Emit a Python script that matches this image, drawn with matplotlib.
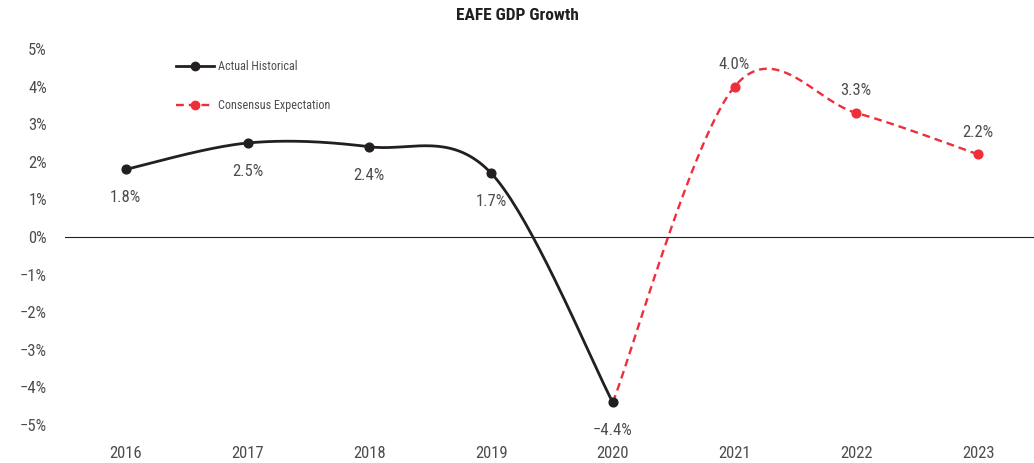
import matplotlib.pyplot as plt
import numpy as np
from matplotlib.lines import Line2D

years = ['2016', '2017', '2018', '2019', '2020', '2021', '2022', '2023']
actual = [1.8, 2.5, 2.4, 1.7, -4.4]           # 2016-2020
consensus = [-4.4, 4.0, 3.3, 2.2]             # 2020-2023
actual_idx = [0, 1, 2, 3, 4]
consensus_idx = [4, 5, 6, 7]
ylabels = ['5%', '4%', '3%', '2%', '1%', '0%', '\u22121%', '\u22122%', '\u22123%', '\u22124%', '\u22125%']

plt.rcParams['font.family'] = ['Roboto Condensed', 'DejaVu Sans']
black = '#231f20'
red = '#ee2e3a'
grey = '#4d4d4d'


def smooth(xs, ys, n=40):
    # excel-style smoothed line: cubic bezier segments with catmull-rom handles
    pts = np.column_stack([xs, ys]).astype(float)
    pad = np.vstack([pts[0], pts, pts[-1]])
    out = []
    for i in range(len(pts) - 1):
        p0, p1, p2, p3 = pad[i], pad[i + 1], pad[i + 2], pad[i + 3]
        c1 = p1 + (p2 - p0) / 6
        c2 = p2 - (p3 - p1) / 6
        t = np.linspace(0, 1, n)[:, None]
        seg = (1 - t) ** 3 * p1 + 3 * (1 - t) ** 2 * t * c1 + 3 * (1 - t) * t ** 2 * c2 + t ** 3 * p2
        out.append(seg if i == 0 else seg[1:])
    out = np.vstack(out)
    return out[:, 0], out[:, 1]


fig = plt.figure(figsize=(10.34, 4.63), dpi=100)
ax = fig.add_axes([65 / 1034, 1 - 425 / 463, 1 - 65 / 1034, (425 - 49) / 463])

ax.axhline(0, color=black, lw=0.8, zorder=1)

sx, sy = smooth(actual_idx, actual)
ax.plot(sx, sy, color=black, lw=2, zorder=2)
ax.plot(actual_idx, actual, 'o', color=black, ms=6.3, zorder=4)

sx, sy = smooth(consensus_idx, consensus)
ax.plot(sx, sy, color=red, lw=1.7, ls=(0, (3.3, 2.1)), zorder=3)
ax.plot(consensus_idx[1:], consensus[1:], 'o', color=red, ms=6.3, zorder=4)


def pct(v):
    s = f'{abs(v):.1f}%'
    return ('\u2212' + s) if v < 0 else s


for i, v in zip(actual_idx, actual):
    ax.annotate(pct(v), (i, v), xytext=(0, -20.5), textcoords='offset points',
                ha='center', va='center', fontsize=12, color=grey)
for i, v in zip(consensus_idx[1:], consensus[1:]):
    ax.annotate(pct(v), (i, v), xytext=(0, 16), textcoords='offset points',
                ha='center', va='center', fontsize=12, color=grey)

ax.set_xlim(-0.5, 7.46)
ax.set_ylim(-5, 5)
ax.set_xticks(range(len(years)))
ax.set_xticklabels(years)
ax.set_yticks(np.arange(5, -6, -1))
ax.set_yticklabels(ylabels)
ax.tick_params(length=0, labelsize=12, colors=grey)
ax.tick_params(axis='x', pad=15)
ax.tick_params(axis='y', pad=13)
for s in ax.spines.values():
    s.set_visible(False)

handles = [
    Line2D([], [], color=black, lw=2, marker='o', ms=6),
    Line2D([], [], color=red, lw=1.7, ls=(0, (3.3, 2.1)), marker='o', ms=6),
]
ax.legend(handles, ['Actual Historical', 'Consensus Expectation'],
          loc='upper left', bbox_to_anchor=(0.103, 1.0), frameon=False,
          fontsize=8.7, labelcolor=grey, handlelength=3.2, handletextpad=0.3,
          labelspacing=2.2)

fig.suptitle('EAFE GDP Growth', fontsize=12.5, fontweight='bold', color=black, y=0.982)

fig.savefig('out.png', dpi=100)
